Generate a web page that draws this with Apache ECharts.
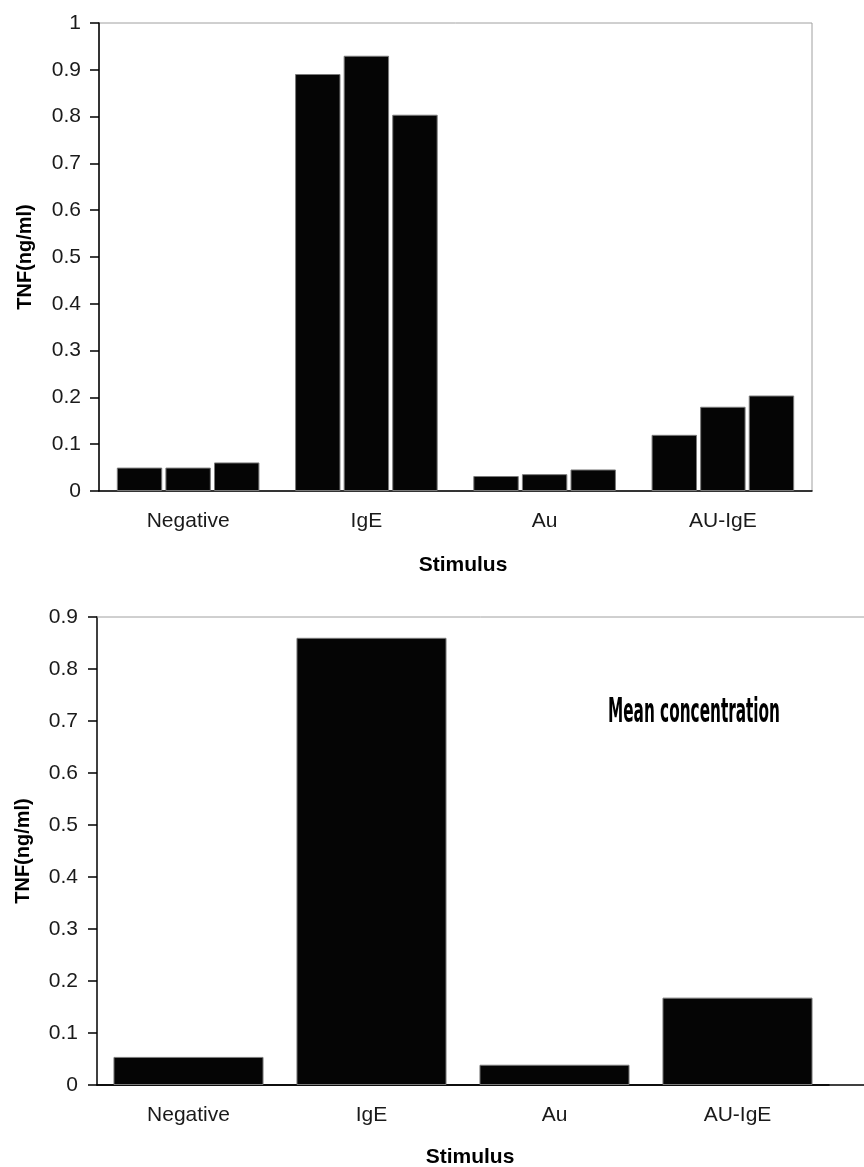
<!DOCTYPE html>
<html><head><meta charset="utf-8">
<script src="https://cdn.jsdelivr.net/npm/echarts@6/dist/echarts.min.js"></script>
<style>html,body{margin:0;padding:0;background:#fff}#c{width:864px;height:1167px}</style>
</head><body><div id="c"></div>
<script>
// ---- data ----
const categories = ['Negative', 'IgE', 'Au', 'AU-IgE'];
const replicate1 = [0.050, 0.891, 0.032, 0.120];
const replicate2 = [0.050, 0.930, 0.036, 0.180];
const replicate3 = [0.061, 0.804, 0.046, 0.204];
const meanValues = [0.054, 0.860, 0.039, 0.168];
const yTitle = 'TNF(ng/ml)';
const xTitle = 'Stimulus';
const meanLabel = 'Mean concentration';

const FONT = '"Liberation Sans", Arial, sans-serif';
const chart = echarts.init(document.getElementById('c'), null, {renderer: 'canvas'});

// measure annotation width to condense it
const mctx = document.createElement('canvas').getContext('2d');
mctx.font = 'bold 34px "DejaVu Sans Condensed", "DejaVu Sans"';
const meanScale = 172 / mctx.measureText(meanLabel).width;

const barStyle = {color: '#050505', borderColor: '#7a7a7a', borderWidth: 1};
const axisLabel = {color: '#1a1a1a', fontFamily: FONT, fontSize: 21};
const yLabelFmt = v => (+v.toFixed(1)).toString();

const G2 = {left: 97, top: 617, width: 732, height: 468};

chart.setOption({
  animation: false,
  backgroundColor: '#fff',
  grid: [
    {left: 99, top: 23, width: 713, height: 468, show: true, borderColor: '#a0a0a0', borderWidth: 1, backgroundColor: 'transparent'},
    Object.assign({show: false}, G2)
  ],
  xAxis: [
    {type: 'category', gridIndex: 0, data: categories,
     axisLine: {lineStyle: {color: '#000', width: 1.5}},
     axisTick: {length: 7, lineStyle: {color: '#000', width: 1.5}},
     axisLabel: Object.assign({margin: 20}, axisLabel)},
    {type: 'category', gridIndex: 1, data: categories,
     axisLine: {lineStyle: {color: '#000', width: 1.5}},
     axisTick: {length: 7, lineStyle: {color: '#000', width: 1.5}, interval: (i) => i !== 4},
     axisLabel: Object.assign({margin: 20}, axisLabel)}
  ],
  yAxis: [
    {type: 'value', gridIndex: 0, min: 0, max: 1, interval: 0.1,
     name: yTitle, nameLocation: 'middle', nameGap: 64,
     nameTextStyle: {fontFamily: FONT, fontWeight: 'bold', fontSize: 20, color: '#000'},
     axisLine: {show: true, lineStyle: {color: '#000', width: 1.5}},
     axisTick: {show: true, length: 9, lineStyle: {color: '#000', width: 1.5}},
     splitLine: {show: false},
     axisLabel: Object.assign({margin: 18, formatter: yLabelFmt}, axisLabel)},
    {type: 'value', gridIndex: 1, min: 0, max: 0.9, interval: 0.1,
     name: yTitle, nameLocation: 'middle', nameGap: 64,
     nameTextStyle: {fontFamily: FONT, fontWeight: 'bold', fontSize: 20, color: '#000'},
     axisLine: {show: true, lineStyle: {color: '#000', width: 1.5}},
     axisTick: {show: true, length: 9, lineStyle: {color: '#000', width: 1.5}},
     splitLine: {show: false},
     axisLabel: Object.assign({margin: 19, formatter: yLabelFmt}, axisLabel)}
  ],
  series: [
    {type: 'bar', name: 'Replicate 1', xAxisIndex: 0, yAxisIndex: 0, data: replicate1, itemStyle: barStyle, barCategoryGap: '20%', barGap: '7%'},
    {type: 'bar', name: 'Replicate 2', xAxisIndex: 0, yAxisIndex: 0, data: replicate2, itemStyle: barStyle, barCategoryGap: '20%', barGap: '7%'},
    {type: 'bar', name: 'Replicate 3', xAxisIndex: 0, yAxisIndex: 0, data: replicate3, itemStyle: barStyle, barCategoryGap: '20%', barGap: '7%'},
    {type: 'bar', name: 'Mean', xAxisIndex: 1, yAxisIndex: 1, data: meanValues, itemStyle: barStyle, barCategoryGap: '18%'}
  ],
  graphic: [
    // plot-area top border of the lower chart (the area runs past the right edge of the picture)
    {type: 'line', shape: {x1: G2.left, y1: G2.top, x2: 864, y2: G2.top}, style: {stroke: '#a0a0a0', lineWidth: 1}, z: 1},
    // lower x axis baseline continued to the picture edge
    {type: 'line', shape: {x1: G2.left, y1: G2.top + G2.height, x2: 864, y2: G2.top + G2.height}, style: {stroke: '#000', lineWidth: 1.5}, z: 1},
    {type: 'text', x: 463, y: 565, style: {text: xTitle, textAlign: 'center', textVerticalAlign: 'middle', font: 'bold 21px ' + FONT, fill: '#000'}},
    {type: 'text', x: 470, y: 1157, style: {text: xTitle, textAlign: 'center', textVerticalAlign: 'middle', font: 'bold 21px ' + FONT, fill: '#000'}},
    {type: 'text', x: 608, y: 713, scaleX: meanScale, style: {text: meanLabel, textAlign: 'left', textVerticalAlign: 'middle', font: 'bold 34px "DejaVu Sans Condensed", "DejaVu Sans"', fill: '#000'}}
  ]
});
</script></body></html>
